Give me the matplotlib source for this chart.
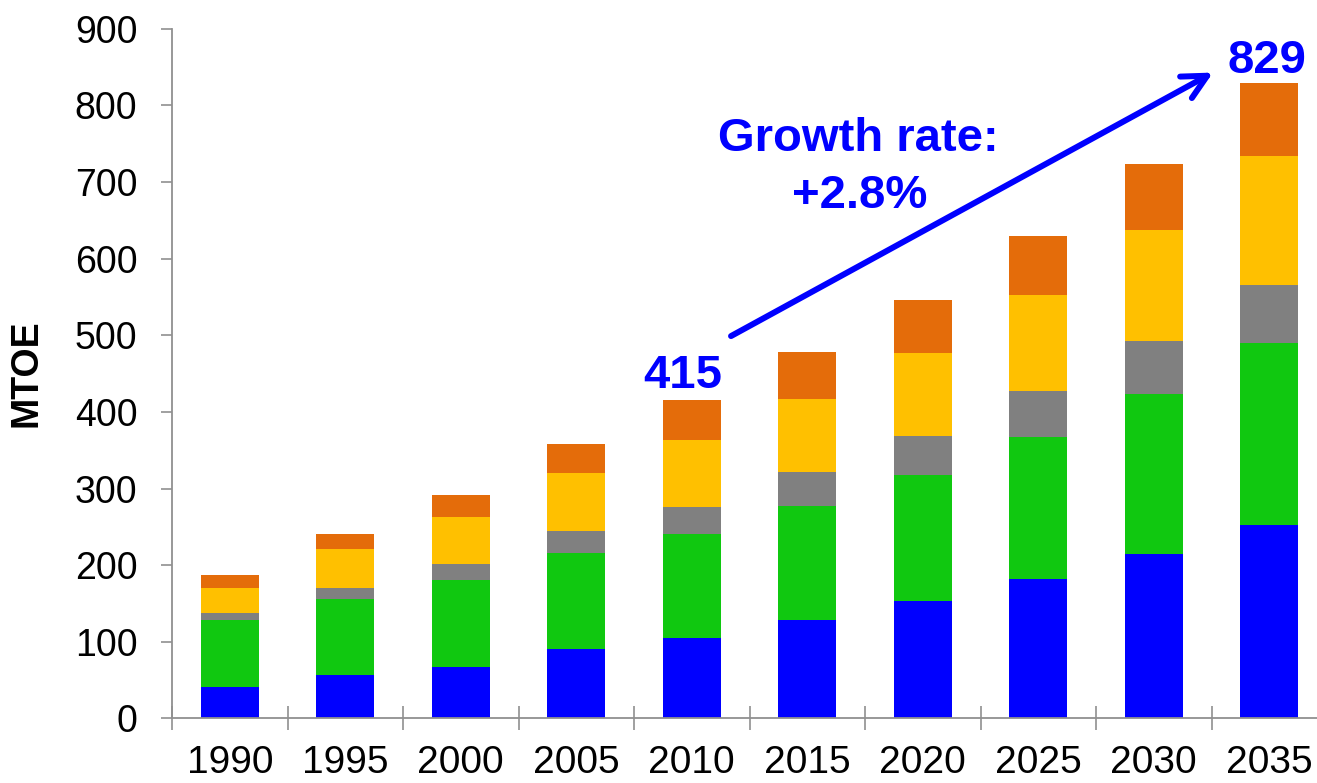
import numpy as np
import matplotlib
matplotlib.use("Agg")
from matplotlib import pyplot as plt

plt.rcParams['font.family'] = ['Liberation Sans', 'DejaVu Sans']

years = ['1990', '1995', '2000', '2005', '2010', '2015', '2020', '2025', '2030', '2035']

# stacked segments, bottom to top (MTOE)
blue_seg = [41, 57, 67, 91, 105, 128, 153, 182, 215, 253]
green_seg = [88, 99, 114, 125, 136, 149, 164, 185, 208, 237]
gray_seg = [9, 14, 20, 29, 35, 44, 52, 60, 69, 76]
yellow_seg = [32, 51, 62, 75, 87, 96, 108, 126, 145, 168]
orange_seg = [17, 20, 28, 38, 52, 61, 69, 77, 87, 95]

growth_text = ['Growth rate:', '+2.8%']

segments = [blue_seg, green_seg, gray_seg, yellow_seg, orange_seg]
colors = ['#0000FF', '#10C810', '#808080', '#FFC000', '#E46C0A']

fig = plt.figure(figsize=(13.17, 7.83), dpi=100)
ax = fig.add_axes([0.1306, 0.0826, 0.877, 0.8805])

x = np.arange(len(years))
bottom = np.zeros(len(years))
for seg, c in zip(segments, colors):
    ax.bar(x, seg, width=0.5, bottom=bottom, color=c, edgecolor='none')
    bottom += np.array(seg)
totals = bottom

ax.set_xlim(-0.5, 9.5)
ax.set_ylim(0, 900)
ax.set_yticks(range(0, 901, 100))

# category labels at bar centres, tick marks between categories
ax.set_xticks(x)
ax.set_xticklabels(years, fontsize=28)
ax.set_xticks(np.arange(-0.5, 10.0, 1.0), minor=True)
ax.tick_params(axis='x', which='major', length=0, pad=19)
ax.tick_params(axis='x', which='minor', direction='inout', length=17,
               width=1.2, color='#909090')
ax.tick_params(axis='y', direction='out', length=8, width=1.2,
               color='#909090', labelsize=27, pad=17)

for side in ['top', 'right']:
    ax.spines[side].set_visible(False)
for side in ['left', 'bottom']:
    ax.spines[side].set_color('#909090')
    ax.spines[side].set_linewidth(1.3)

ax.set_ylabel('MTOE', fontsize=27, fontweight='bold', labelpad=22)

# start and end totals
ax.text(3.92, totals[4] + 16, '{:.0f}'.format(totals[4]), color='#0000FF',
        fontsize=34, fontweight='bold', ha='center', va='baseline')
ax.text(8.98, totals[9] + 13, '{:.0f}'.format(totals[9]), color='#0000FF',
        fontsize=34, fontweight='bold', ha='center', va='baseline')

ax.annotate('', xy=(8.513, 843), xytext=(4.34, 499),
            arrowprops=dict(arrowstyle='->,head_length=0.87,head_width=0.44',
                            mutation_scale=20, lw=4.3, color='#0000FF',
                            shrinkA=0, shrinkB=0))

ax.text(5.44, 740, growth_text[0], color='#0000FF', fontsize=34,
        fontweight='bold', ha='center', va='baseline')
ax.text(5.45, 666, growth_text[1], color='#0000FF', fontsize=34,
        fontweight='bold', ha='center', va='baseline')

fig.savefig('out.png', dpi=100)
